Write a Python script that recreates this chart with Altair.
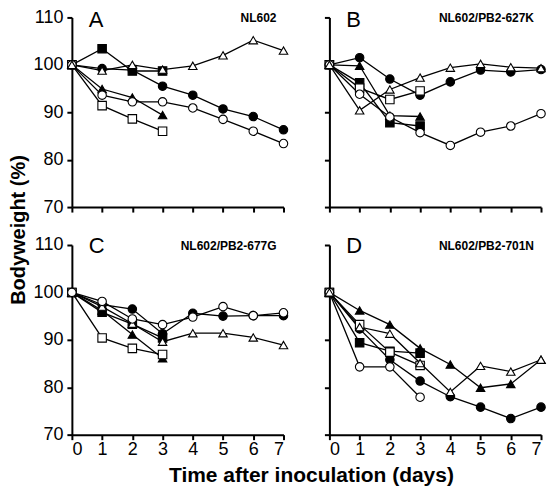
import altair as alt
import pandas as pd

FONT = "Liberation Sans"

days = [0, 1, 2, 3, 4, 5, 6, 7]

# Panel A: NL602
A_fc = [100, 99.2, 98.9, 95.5, 93.6, 90.7, 89.1, 86.3]
A_oc = [100, 93.6, 92.2, 92.2, 90.9, 88.5, 86.0, 83.4]
A_ft = [100, 94.9, 93.1, 89.4]
A_ot = [100, 98.8, 100.0, 99.0, 99.8, 102.0, 105.2, 103.0]
A_fs = [100, 103.4, 98.7, 98.7]
A_os = [100, 91.4, 88.6, 86.0]

# Panel B: NL602/PB2-627K
B_fc = [100, 101.5, 97.0, 93.6, 96.4, 98.9, 98.5, 99.0]
B_oc = [100, 93.8, 89.0, 85.7, 83.0, 85.8, 87.1, 89.7]
B_ft = [100, 99.8, 89.3, 89.1]
B_ot = [100, 90.4, 94.8, 97.3, 99.4, 100.2, 99.5, 99.3]
B_fs = [100, 96.2, 87.8, 87.1]
B_os = [100, 95.1, 92.7, 94.5]

# Panel C: NL602/PB2-677G
C_oc = [100, 98.1, 94.4, 93.2, 94.8, 97.0, 95.1, 95.7]
C_fc = [100, 97.4, 96.5, 91.3, 95.6, 95.0, 95.1, 95.1]
C_ot = [100, 97.0, 93.4, 89.6, 91.4, 91.4, 90.5, 88.9]
C_ft = [100, 96.2, 91.1, 86.1]
C_fs = [100, 95.8, 93.3, 90.4]
C_os = [100, 90.4, 88.2, 86.9]

# Panel D: NL602/PB2-701N
D_ft = [100, 96.2, 93.2, 88.2, 84.8, 79.9, 80.7, 85.8]
D_ot = [100, 92.7, 91.3, 85.1, 79.0, 84.5, 83.3, 85.8]
D_os = [100, 93.2, 87.4, 84.6]
D_fs = [100, 89.4, 87.6, 87.2]
D_fc = [100, 92.3, 85.8, 81.3, 78.0, 75.8, 73.4, 75.8]
D_oc = [100, 84.3, 84.3, 77.9]

letters = ["A", "B", "C", "D"]
subtitles = ["NL602", "NL602/PB2-627K", "NL602/PB2-677G", "NL602/PB2-701N"]
y_ticks = [70, 80, 90, 100, 110]

# series key -> (marker shape, fill)
styles = {
    "fc": ("circle", "black"),
    "oc": ("circle", "white"),
    "ft": ("triangle-up", "black"),
    "ot": ("triangle-up", "white"),
    "fs": ("square", "black"),
    "os": ("square", "white"),
}

panels_data = {
    "A": {"fs": A_fs, "ft": A_ft, "fc": A_fc, "os": A_os, "oc": A_oc, "ot": A_ot},
    "B": {"fs": B_fs, "ft": B_ft, "fc": B_fc, "os": B_os, "oc": B_oc, "ot": B_ot},
    "C": {"fs": C_fs, "ft": C_ft, "fc": C_fc, "os": C_os, "ot": C_ot, "oc": C_oc},
    "D": {"fs": D_fs, "fc": D_fc, "ft": D_ft, "os": D_os, "oc": D_oc, "ot": D_ot},
}


def make_df(p):
    rows = []
    for key, vals in panels_data[p].items():
        shp, fil = styles[key]
        for d, v in zip(days, vals):
            rows.append({"series": key, "day": d, "bw": v, "shape": shp, "fill": fil})
    return pd.DataFrame(rows)


W, H = 212, 190
COLGAP, ROWGAP = 46, 38


def panel(idx, xlabels, ylabels, extra=None):
    p = letters[idx]
    df = make_df(p)
    base = alt.Chart(df)
    x = alt.X("day:Q", scale=alt.Scale(domain=[0, 7], nice=False),
              axis=alt.Axis(values=days, labels=xlabels, title=None, format="d"))
    y = alt.Y("bw:Q", scale=alt.Scale(domain=[70, 110], nice=False, zero=False),
              axis=alt.Axis(values=y_ticks, labels=ylabels, title=None, format="d"))
    lines = base.mark_line(color="black", strokeWidth=1.3).encode(
        x=x, y=y, detail="series:N", order="day:Q")
    pts = base.mark_point(filled=True, stroke="black", strokeWidth=1.1, size=72, opacity=1).encode(
        x=x, y=y,
        shape=alt.Shape("shape:N", scale=None),
        fill=alt.Fill("fill:N", scale=None))
    ly = 10 if idx < 2 else 8
    let = alt.Chart(pd.DataFrame({"t": [p]})).mark_text(
        align="left", baseline="alphabetic", fontSize=22, font=FONT, color="black"
    ).encode(text="t:N", x=alt.value(17), y=alt.value(ly))
    sub = alt.Chart(pd.DataFrame({"t": [subtitles[idx]]})).mark_text(
        align="right", baseline="alphabetic", fontSize=12, fontWeight="bold", font=FONT, color="black"
    ).encode(text="t:N", x=alt.value(W - 7), y=alt.value(5))
    layers = [lines, pts, let, sub]
    if extra:
        layers += extra
    return alt.layer(*layers).properties(width=W, height=H)


ytitle = alt.Chart(pd.DataFrame({"t": ["Bodyweight (%)"]})).mark_text(
    align="center", baseline="middle", angle=270, fontSize=20, fontWeight="bold", font=FONT, color="black"
).encode(text="t:N", x=alt.value(-53), y=alt.value(-15))
xtitle = alt.Chart(pd.DataFrame({"t": ["Time after inoculation (days)"]})).mark_text(
    align="center", baseline="alphabetic", fontSize=21, fontWeight="bold", font=FONT, color="black"
).encode(text="t:N", x=alt.value(240), y=alt.value(H + 47))

pA = panel(0, False, True)
pB = panel(1, False, False)
pC = panel(2, True, True, [ytitle, xtitle])
pD = panel(3, True, False)

chart = alt.ConcatChart(
    concat=[pA, pB, pC, pD], columns=2, spacing={"row": ROWGAP, "column": COLGAP}, bounds="flush"
).properties(
    padding={"left": 0, "top": 0, "right": 0, "bottom": 0}
).configure_view(stroke=None).configure_axis(
    grid=False, domainColor="black", domainWidth=2, tickColor="black", tickWidth=2, tickSize=5,
    labelFont=FONT, labelFontSize=18, labelColor="black", labelPadding=4,
).configure_axisX(labelPadding=1)

chart.save("out.html", embed_options={"renderer": "svg", "actions": False})
